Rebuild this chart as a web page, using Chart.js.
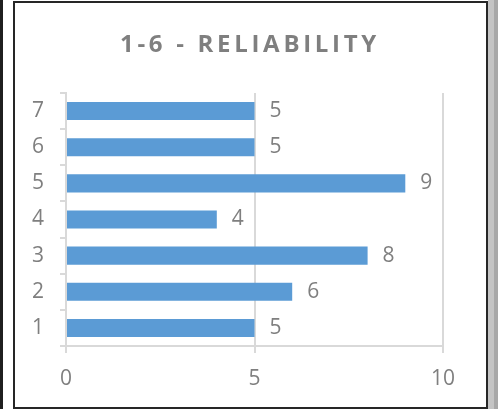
<!DOCTYPE html>
<html>
<head>
<meta charset="utf-8">
<script src="https://cdn.jsdelivr.net/npm/chart.js@4/dist/chart.umd.min.js"></script>
<style>
  html, body { margin: 0; padding: 0; background: #fff; width: 498px; height: 409px; overflow: hidden; }
  #leftline { position: absolute; left: 0; top: 0; width: 3px; height: 409px; background: #1f1f1f; }
  #band { position: absolute; left: 488px; top: 0; width: 10px; height: 409px; background: #c4c4c4; }
  #band2 { position: absolute; left: 494px; top: 0; width: 4px; height: 409px; background: #a8a8a8; }
  #frame { position: absolute; left: 13px; top: 1px; width: 471px; height: 404px; border: 2px solid #262626; background: #fff; }
  #wrap { position: absolute; left: 16px; top: 4px; width: 468px; height: 402px; }
</style>
</head>
<body>
<div id="leftline"></div>
<div id="band"></div>
<div id="band2"></div>
<div id="frame"></div>
<div id="wrap"><canvas id="c" width="468" height="402"></canvas></div>
<script>
const titleText = '1-6 - RELIABILITY';
const categories = ['1', '2', '3', '4', '5', '6', '7'];
const values = [5, 6, 8, 4, 9, 5, 5];
const xTicks = [0, 5, 10];

const gray = '#7f7f7f';
const FONT = "'Open Sans', 'Liberation Sans', sans-serif";

const titlePlugin = {
  id: 'spacedTitle',
  afterDraw(chart) {
    const ctx = chart.ctx;
    ctx.save();
    ctx.font = 'bold 24px ' + FONT;
    ctx.fillStyle = gray;
    ctx.letterSpacing = '3.7px';
    ctx.textAlign = 'center';
    ctx.textBaseline = 'middle';
    ctx.fillText(titleText, 234, 41);
    ctx.restore();
  }
};

const labelPlugin = {
  id: 'valueLabels',
  afterDatasetsDraw(chart) {
    const ctx = chart.ctx;
    const meta = chart.getDatasetMeta(0);
    ctx.save();
    ctx.font = '21px ' + FONT;
    ctx.fillStyle = gray;
    ctx.textAlign = 'left';
    ctx.textBaseline = 'middle';
    meta.data.forEach((bar, i) => {
      ctx.fillText(String(values[i]), bar.x + 15, bar.y);
    });
    ctx.restore();
  }
};

new Chart(document.getElementById('c'), {
  type: 'bar',
  data: {
    labels: categories,
    datasets: [{
      data: values,
      backgroundColor: '#5b9bd5',
      borderWidth: 0,
      barPercentage: 0.5,
      categoryPercentage: 1.0
    }]
  },
  options: {
    indexAxis: 'y',
    responsive: false,
    animation: false,
    events: [],
    layout: { padding: { left: 0, right: 41, top: 89, bottom: 0 } },
    plugins: { legend: { display: false }, title: { display: false }, tooltip: { enabled: false } },
    scales: {
      x: {
        min: 0, max: 10,
        afterBuildTicks(scale) { scale.ticks = xTicks.map(v => ({ value: v })); },
        afterFit(scale) { scale.height = 60; },
        border: { display: true, color: '#d9d9d9', width: 2 },
        grid: { color: '#d9d9d9', lineWidth: 2, drawTicks: true, tickLength: 7 },
        ticks: { color: gray, font: { family: FONT, size: 21 }, padding: 13 }
      },
      y: {
        reverse: true,
        afterFit(scale) { scale.width = 50; },
        border: { display: true, color: '#d9d9d9', width: 2 },
        grid: { offset: true, drawOnChartArea: false, drawTicks: true, tickLength: 6, color: '#d9d9d9', lineWidth: 2 },
        ticks: { color: gray, font: { family: FONT, size: 21 }, padding: 16 }
      }
    }
  },
  plugins: [titlePlugin, labelPlugin]
});
</script>
</body>
</html>
